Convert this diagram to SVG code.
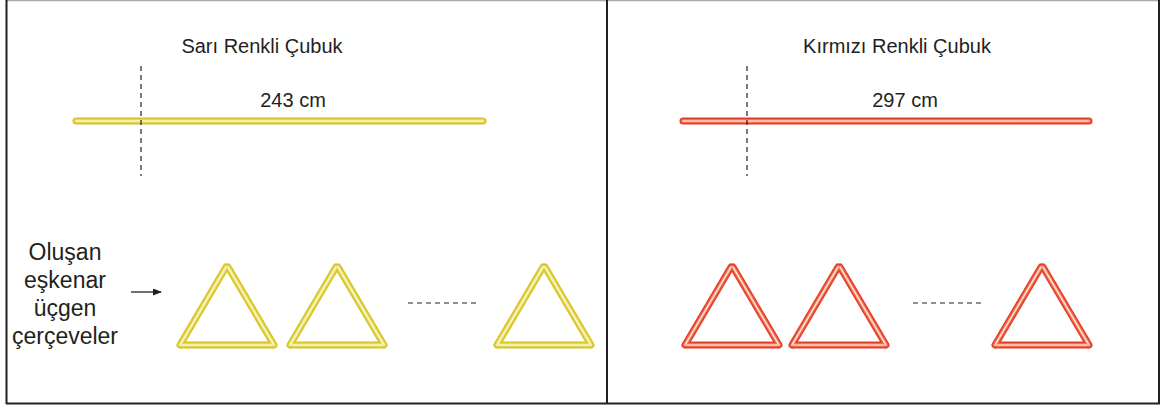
<svg xmlns="http://www.w3.org/2000/svg" width="1171" height="411" viewBox="0 0 1171 411">
<defs>
<style>
.t{font-family:"Liberation Sans",Arial,sans-serif;fill:#231f20;text-anchor:middle}
.yo{stroke:#d6c523;stroke-width:7;stroke-linecap:round;fill:none}
.ym{stroke:#e4d657;stroke-width:4;stroke-linecap:round;fill:none}
.yi{stroke:#faf6cc;stroke-width:1.6;stroke-linecap:round;fill:none}
.ro{stroke:#e63d2b;stroke-width:7;stroke-linecap:round;fill:none}
.rm{stroke:#f26b4f;stroke-width:4;stroke-linecap:round;fill:none}
.ri{stroke:#fde0c8;stroke-width:1.6;stroke-linecap:round;fill:none}
.dash{stroke:#231f20;stroke-width:1.2;stroke-dasharray:5,4;fill:none}
</style>
<marker id="ah" markerWidth="9" markerHeight="7" refX="8" refY="3.5" orient="auto" markerUnits="userSpaceOnUse">
<path d="M0,0 L9,3.5 L0,7 Z" fill="#231f20"/>
</marker>
<g id="triY">
<line class="yo" x1="46" y1="0" x2="0" y2="78"/>
<line class="yo" x1="48" y1="0" x2="94" y2="78"/>
<line class="yo" x1="2" y1="78" x2="92" y2="78"/>
<line class="ym" x1="46" y1="0" x2="0" y2="78"/>
<line class="ym" x1="48" y1="0" x2="94" y2="78"/>
<line class="ym" x1="2" y1="78" x2="92" y2="78"/>
<line class="yi" x1="46" y1="0" x2="0" y2="78"/>
<line class="yi" x1="48" y1="0" x2="94" y2="78"/>
<line class="yi" x1="2" y1="78" x2="92" y2="78"/>
</g>
<g id="triR">
<line class="ro" x1="46" y1="0" x2="0" y2="78"/>
<line class="ro" x1="48" y1="0" x2="94" y2="78"/>
<line class="ro" x1="2" y1="78" x2="92" y2="78"/>
<line class="rm" x1="46" y1="0" x2="0" y2="78"/>
<line class="rm" x1="48" y1="0" x2="94" y2="78"/>
<line class="rm" x1="2" y1="78" x2="92" y2="78"/>
<line class="ri" x1="46" y1="0" x2="0" y2="78"/>
<line class="ri" x1="48" y1="0" x2="94" y2="78"/>
<line class="ri" x1="2" y1="78" x2="92" y2="78"/>
</g>
</defs>
<rect width="1171" height="411" fill="#ffffff"/>
<g id="frame">
<line x1="6" y1="0.5" x2="1159" y2="0.5" stroke="#a7a9ac" stroke-width="1.5"/>
<line x1="6.5" y1="0" x2="6.5" y2="404" stroke="#231f20" stroke-width="2"/>
<line x1="1159" y1="0" x2="1159" y2="404" stroke="#231f20" stroke-width="2"/>
<line x1="607" y1="0" x2="607" y2="404" stroke="#231f20" stroke-width="2"/>
<line x1="6" y1="403.5" x2="1160" y2="403.5" stroke="#231f20" stroke-width="2"/>
</g>
<g id="yellow-rod">
<text class="t" x="262" y="53" font-size="20">Sarı Renkli Çubuk</text>
<text class="t" x="293" y="107" font-size="20">243 cm</text>
<line class="yo" x1="76" y1="121" x2="483" y2="121"/>
<line class="ym" x1="76" y1="121" x2="483" y2="121"/>
<line class="yi" x1="76" y1="121" x2="483" y2="121"/>
<line class="dash" x1="141" y1="66" x2="141" y2="176"/>
</g>
<g id="red-rod">
<text class="t" x="897" y="53" font-size="20">Kırmızı Renkli Çubuk</text>
<text class="t" x="905" y="107" font-size="20">297 cm</text>
<line class="ro" x1="683" y1="121" x2="1089" y2="121"/>
<line class="rm" x1="683" y1="121" x2="1089" y2="121"/>
<line class="ri" x1="683" y1="121" x2="1089" y2="121"/>
<line class="dash" x1="747" y1="66" x2="747" y2="176"/>
</g>
<g id="label">
<text class="t" font-size="23"><tspan x="65" y="260">Oluşan</tspan><tspan x="65" y="288">eşkenar</tspan><tspan x="65" y="316">üçgen</tspan><tspan x="65" y="344">çerçeveler</tspan></text>
</g>
<g id="connectors">
<line x1="131" y1="292" x2="161" y2="292" stroke="#231f20" stroke-width="1.3" marker-end="url(#ah)"/>
</g>
<g id="yellow-triangles">
<use href="#triY" x="180" y="267"/>
<use href="#triY" x="290" y="267"/>
<use href="#triY" x="497" y="267"/>
<line class="dash" x1="408" y1="303" x2="478" y2="303"/>
</g>
<g id="red-triangles">
<use href="#triR" x="685" y="267"/>
<use href="#triR" x="792" y="267"/>
<use href="#triR" x="995" y="267"/>
<line class="dash" x1="913" y1="303" x2="981" y2="303"/>
</g>
</svg>
